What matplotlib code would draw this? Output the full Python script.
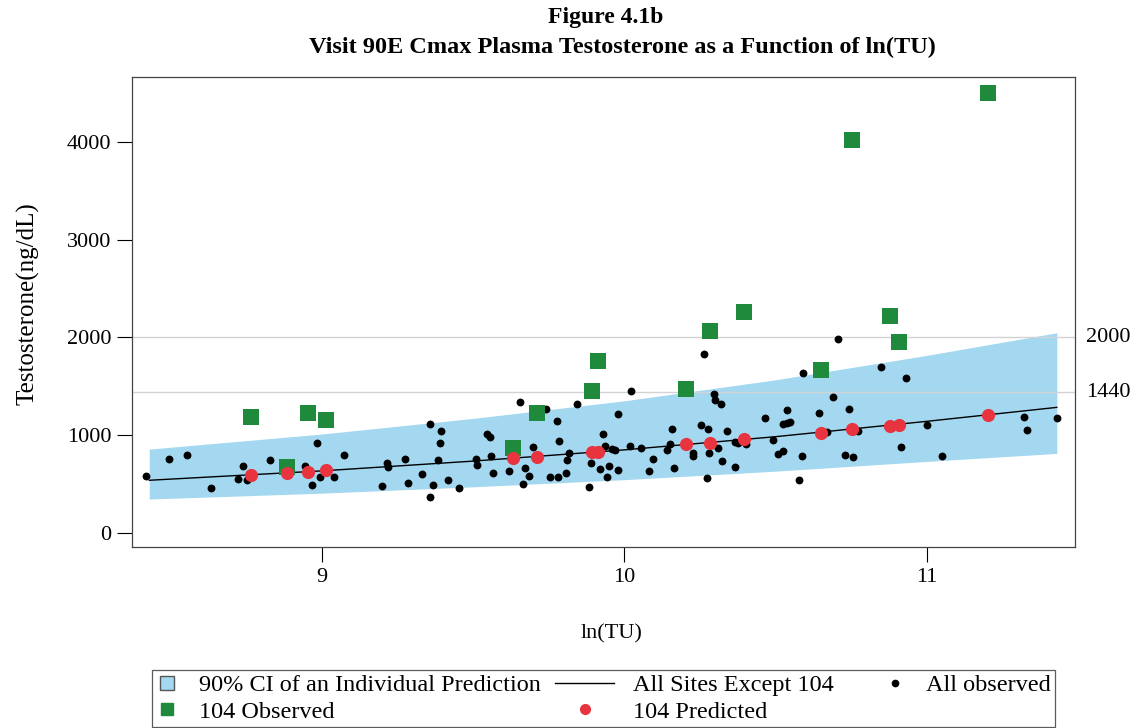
import numpy as np
import matplotlib.pyplot as plt
from matplotlib.lines import Line2D
from matplotlib.legend_handler import HandlerLine2D

plt.rcParams['font.family'] = ['Liberation Serif', 'DejaVu Serif']

# fitted curve (all sites except 104) and its 90% band, read at a few ln(TU) values
fit_x = [8.43, 9.0, 9.5, 10.0, 10.5, 11.0, 11.43]
fit_y = [537, 633, 733, 848, 983, 1140, 1283]
band_lo = [345, 405, 470, 543, 630, 730, 812]
band_hi = [856, 1010, 1170, 1350, 1565, 1815, 2046]

# all observed subjects
obs_x = [8.42, 8.495, 8.556, 8.633, 8.741, 8.724, 8.752, 8.829, 8.945, 8.985,
         8.967, 8.994, 9.041, 9.074, 9.198, 9.215, 9.220, 9.275, 9.284, 9.333,
         9.358, 9.393, 9.391, 9.383, 9.367, 9.358, 9.419, 9.455, 9.510, 9.512,
         9.545, 9.556, 9.559, 9.567, 9.620, 9.656, 9.666, 9.672, 9.686, 9.700,
         9.741, 9.755, 9.782, 9.777, 9.785, 9.810, 9.819, 9.808, 9.843, 9.885,
         9.890, 9.920, 9.931, 9.937, 9.944, 9.951, 9.970, 9.980, 9.980, 9.959,
         10.021, 10.019, 10.055, 10.094, 10.083, 10.159, 10.151, 10.142, 10.165, 10.226,
         10.228, 10.253, 10.276, 10.265, 10.281, 10.311, 10.273, 10.298, 10.300, 10.320,
         10.322, 10.339, 10.366, 10.375, 10.366, 10.403, 10.465, 10.493, 10.509, 10.524,
         10.526, 10.537, 10.548, 10.537, 10.579, 10.589, 10.592, 10.643, 10.671, 10.691,
         10.708, 10.730, 10.757, 10.744, 10.774, 10.848, 10.932, 10.914, 11.002, 11.050,
         11.323, 11.331, 11.430]
obs_y = [583, 757, 792, 454, 679, 549, 539, 744, 682, 921,
         485, 567, 573, 792, 478, 716, 669, 751, 512, 600,
         1109, 1040, 915, 744, 488, 362, 539, 457, 751, 693,
         1007, 982, 785, 608, 631, 1340, 495, 659, 580, 880,
         1262, 573, 567, 1146, 941, 744, 812, 608, 1314, 471,
         716, 649, 1007, 887, 567, 682, 846, 1211, 641, 853,
         1453, 887, 863, 751, 631, 1058, 907, 846, 665, 818,
         785, 1099, 1058, 1828, 818, 863, 557, 1419, 1358, 1317,
         737, 1040, 931, 921, 669, 907, 1170, 948, 802, 836,
         1109, 1119, 1136, 1255, 539, 785, 1637, 1221, 1033, 1391,
         1982, 792, 777, 1269, 1043, 1698, 1586, 877, 1099, 785,
         1187, 1051, 1176]

# site 104: observed and predicted
site_x = [8.766, 8.884, 8.956, 9.014, 9.633, 9.711, 9.893, 9.914,
          10.204, 10.284, 10.396, 10.651, 10.754, 10.880, 10.909, 11.202]
site_obs = [1187, 669, 1228, 1153, 870, 1221, 1453, 1757,
            1470, 2063, 2261, 1664, 4014, 2217, 1954, 4505]
site_pred = [590, 608, 624, 641, 761, 777, 825, 830,
             904, 921, 955, 1023, 1058, 1095, 1105, 1204]

ref_levels = [2000, 1440]

band_color = '#a3d8f0'
green = '#1f8a3c'
red = '#e8343f'


class LongHandle(HandlerLine2D):
    # stretch the legend handle leftwards so the fit line reads as a line
    def get_xdata(self, legend, xdescent, ydescent, width, height, fontsize):
        x0 = -xdescent - 1.4 * width
        x1 = -xdescent + width
        return np.array([x0, x1]), np.array([(x0 + x1) / 2])


fig = plt.figure(figsize=(11.38, 7.28), dpi=100)
ax = fig.add_axes([0.116, 0.2486, 0.8286, 0.6454])

ax.fill_between(fit_x, band_lo, band_hi, color=band_color, lw=0, zorder=1)
for lev in ref_levels:
    ax.axhline(lev, color='#d2d2d2', lw=1.0, zorder=2)
    ax.text(1.012, lev, str(lev), transform=ax.get_yaxis_transform(),
            ha='left', va='center', fontsize=16)
ax.plot(fit_x, fit_y, color='black', lw=1.0, zorder=3)
ax.scatter(obs_x, obs_y, s=32, color='black', lw=0, zorder=4)
ax.scatter(site_x, site_obs, s=125, marker='s', color=green, lw=0, zorder=5)
ax.scatter(site_x, site_pred, s=90, color=red, lw=0, zorder=6)

ax.set_xlim(8.373, 11.49)
ax.set_ylim(-146, 4662)
ax.set_xticks([9, 10, 11])
ax.set_yticks([0, 1000, 2000, 3000, 4000])
ax.tick_params(direction='out', length=11, width=0.8, pad=4, labelsize=16)
for sp in ax.spines.values():
    sp.set_color('#444444')
    sp.set_linewidth(0.9)

ax.set_xlabel('ln(TU)', fontsize=16)
ax.set_ylabel('Testosterone(ng/dL)', fontsize=18)
ax.xaxis.set_label_coords(0.509, -0.165)
ax.yaxis.set_label_coords(-0.0976, 0.519)

fig.text(0.532, 0.976, 'Figure 4.1b', ha='center', va='center',
         fontsize=17, fontweight='bold')
fig.text(0.547, 0.935, 'Visit 90E Cmax Plasma Testosterone as a Function of ln(TU)',
         ha='center', va='center', fontsize=17.5, fontweight='bold')

h_ci = Line2D([], [], ls='none', marker='s', ms=10, mfc=band_color, mec='#555555', mew=1)
h_obs = Line2D([], [], ls='none', marker='s', ms=9, color=green)
h_line = Line2D([], [], color='black', lw=1)
h_pred = Line2D([], [], ls='none', marker='o', ms=7, color=red)
h_all = Line2D([], [], ls='none', marker='o', ms=4.5, color='black')

leg = fig.legend([h_ci, h_obs, h_line, h_pred, h_all],
                 ['90% CI of an Individual Prediction', '104 Observed',
                  'All Sites Except 104', '104 Predicted', 'All observed'],
                 ncol=3, loc='lower center', bbox_to_anchor=(0.53, 0.002),
                 borderaxespad=0,
                 fontsize=17.5, frameon=True, fancybox=False, edgecolor='#333333',
                 handlelength=1.0, handletextpad=0.8, columnspacing=2.0,
                 labelspacing=0.2, borderpad=0.15,
                 handler_map={h_line: LongHandle(), h_pred: LongHandle()})
leg.get_frame().set_linewidth(0.9)

fig.savefig('out.png', dpi=100)
